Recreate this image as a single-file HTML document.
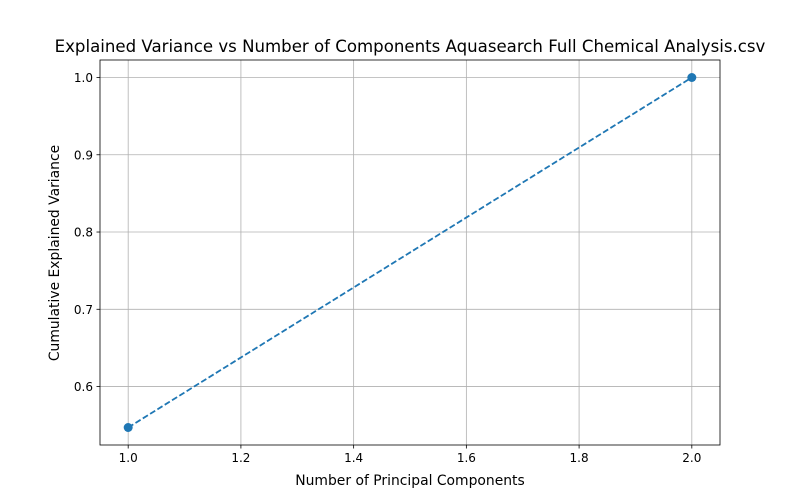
<!DOCTYPE html>
<html>
<head>
<meta charset="utf-8">
<style>
body{margin:0;background:#fff;}
svg{display:block;font-family:"DejaVu Sans","Liberation Sans",sans-serif;}
</style>
</head>
<body>
<svg id="chart" width="800" height="500" viewBox="0 0 800 500">
<rect width="800" height="500" fill="#fff"/>
<g id="grid"></g>
<g id="ticks"></g>
<g id="series"></g>
<rect x="100" y="60" width="620" height="385" fill="none" stroke="#000" stroke-width="0.8"/>
<text x="410" y="52" text-anchor="middle" font-size="16.6">Explained Variance vs Number of Components Aquasearch Full Chemical Analysis.csv</text>
<text x="410" y="485" text-anchor="middle" font-size="13.9">Number of Principal Components</text>
<text x="59" y="253" text-anchor="middle" font-size="13.9" transform="rotate(-90 59 253)">Cumulative Explained Variance</text>
</svg>
<script>
const components = [1, 2];
const cumVariance = [0.547, 1.0];
const xTicks = [1.0, 1.2, 1.4, 1.6, 1.8, 2.0];
const yTicks = [0.6, 0.7, 0.8, 0.9, 1.0];

const L=100,R=720,T=60,B=445;
const xmin=0.95,xmax=2.05;
const ymin=Math.min(...cumVariance), ymax=Math.max(...cumVariance);
const pad=(ymax-ymin)*0.05;
const y0=ymin-pad, y1=ymax+pad;
const sx=v=>L+(v-xmin)/(xmax-xmin)*(R-L);
const sy=v=>B-(v-y0)/(y1-y0)*(B-T);
const NS='http://www.w3.org/2000/svg';
function mk(tag,attrs,parent){const e=document.createElementNS(NS,tag);for(const k in attrs)e.setAttribute(k,attrs[k]);parent.appendChild(e);return e;}
const grid=document.getElementById('grid'),ticks=document.getElementById('ticks'),series=document.getElementById('series');
xTicks.forEach(v=>{
  const x=sx(v);
  const g=mk('line',{x1:x,x2:x,y1:T,y2:B,stroke:'#b0b0b0','stroke-width':0.8},grid);
  
  
  const t=mk('line',{x1:x,x2:x,y1:B,y2:B+3.5,stroke:'#000','stroke-width':0.8},ticks);
  
  
  const l=mk('text',{x:x,y:B+17,'text-anchor':'middle','font-size':12},ticks);
  l.textContent=v.toFixed(1);
  
  
});
yTicks.forEach(v=>{
  const y=sy(v);
  const g=mk('line',{x1:L,x2:R,y1:y,y2:y,stroke:'#b0b0b0','stroke-width':0.8},grid);
  
  
  const t=mk('line',{x1:L-3.5,x2:L,y1:y,y2:y,stroke:'#000','stroke-width':0.8},ticks);
  
  
  const l=mk('text',{x:L-7,y:y+4.5,'text-anchor':'end','font-size':12},ticks);
  l.textContent=v.toFixed(1);
  
  
});
const pts=components.map((c,i)=>sx(c)+','+sy(cumVariance[i])).join(' ');
const line=mk('polyline',{points:pts,fill:'none',stroke:'#1f77b4','stroke-width':1.8,'stroke-dasharray':'6,2.6'},series);


components.forEach((c,i)=>{
  const p=mk('circle',{cx:sx(c),cy:sy(cumVariance[i]),r:4.5,fill:'#1f77b4'},series);
  
  
});
</script>
</body>
</html>
